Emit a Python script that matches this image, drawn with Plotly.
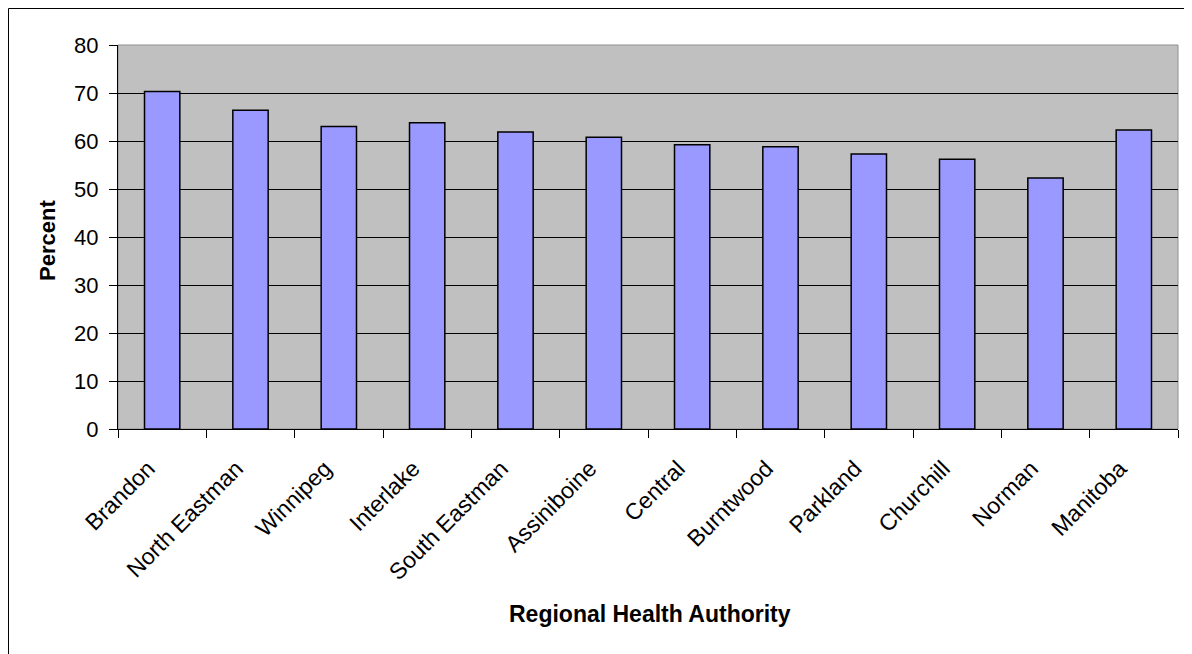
import plotly.graph_objects as go

categories = ["Brandon", "North Eastman", "Winnipeg", "Interlake", "South Eastman",
              "Assiniboine", "Central", "Burntwood", "Parkland", "Churchill",
              "Norman", "Manitoba"]
values = [70.3, 66.4, 63.0, 63.8, 61.9, 60.8, 59.2, 58.8, 57.3, 56.2, 52.3, 62.3]
y_ticks = [0, 10, 20, 30, 40, 50, 60, 70, 80]

FONT = "Arial, Liberation Sans, sans-serif"

fig = go.Figure()
fig.add_trace(go.Bar(
    x=categories, y=values,
    marker=dict(color="#9999FF", line=dict(color="black", width=1.5)),
    width=0.4,
))

# page body has an 8px margin; work in window pixel coordinates
OFF = 8
WIN_W, WIN_H = 1192, 654
W, H = WIN_W - OFF, WIN_H - OFF
plot_left, plot_right, plot_top, plot_bottom = 118, 1178, 45, 429
L = plot_left - OFF
R = W - (plot_right - OFF)
T = plot_top - OFF
B = H - (plot_bottom - OFF)
pw, ph = plot_right - plot_left, plot_bottom - plot_top

def px_x(x):
    return (x - plot_left) / pw

def px_y(y):
    return (plot_bottom - y) / ph

fig.update_layout(
    width=W, height=H,
    margin=dict(l=L, r=R, t=T, b=B),
    paper_bgcolor="white",
    plot_bgcolor="#C0C0C0",
    showlegend=False,
    font=dict(family=FONT, color="black", size=22),
    xaxis=dict(
        type="category",
        tickangle=-45,
        tickson="boundaries",
        ticks="outside", ticklen=8, tickcolor="black", tickwidth=1,
        showline=True, linecolor="black", linewidth=1,
        showgrid=False,
        tickfont=dict(size=23, family=FONT),
        ticklabelstandoff=16,
        ticklabelshift=-14,
    ),
    yaxis=dict(
        range=[0, 80],
        tickvals=y_ticks,
        ticks="outside", ticklen=8, tickcolor="black", tickwidth=1,
        showline=True, linecolor="black", linewidth=1,
        showgrid=True, gridcolor="black", gridwidth=1,
        zeroline=False,
        tickfont=dict(size=22, family=FONT),
        ticklabelstandoff=6,
    ),
    shapes=[
        dict(type="rect", xref="paper", yref="paper", x0=0, x1=1, y0=0, y1=1,
             line=dict(color="#909090", width=1), layer="below"),
        dict(type="line", xref="paper", yref="paper",
             x0=px_x(8.5), x1=px_x(1200), y0=px_y(8.5), y1=px_y(8.5),
             line=dict(color="black", width=1)),
        dict(type="line", xref="paper", yref="paper",
             x0=px_x(8.5), x1=px_x(8.5), y0=px_y(8.5), y1=px_y(700),
             line=dict(color="black", width=1)),
    ],
    annotations=[
        dict(text="<b>Percent</b>", xref="paper", yref="paper",
             x=px_x(47), y=px_y(241), textangle=-90, showarrow=False,
             font=dict(size=22, family=FONT), xanchor="center", yanchor="middle"),
        dict(text="<b>Regional Health Authority</b>", xref="paper", yref="paper",
             x=px_x(650), y=px_y(614), showarrow=False,
             font=dict(size=23, family=FONT), xanchor="center", yanchor="middle"),
    ],
)

fig.write_html("out.html")
